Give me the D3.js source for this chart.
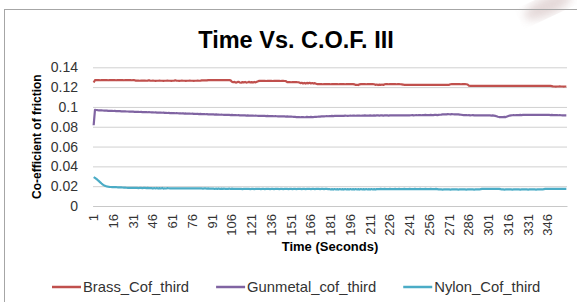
<!DOCTYPE html>
<html>
<head>
<meta charset="utf-8">
<script src="https://cdn.jsdelivr.net/npm/d3@7"></script>
<style>
  body { margin:0; background:#fff; }
  svg { display:block; font-family: "Liberation Sans", Arial, sans-serif; }
</style>
</head>
<body>
<svg id="chart" width="577" height="302"></svg>
<script>
// chart values
const chartTitle = "Time Vs. C.O.F. III";
const xTitle = "Time (Seconds)";
const yTitle = "Co-efficient of friction";
const seriesNames = ["Brass_Cof_third", "Gunmetal_cof_third", "Nylon_Cof_third"];
const seriesColors = ["#C0504D", "#8064A2", "#4BACC6"];
const yTicks = [0, 0.02, 0.04, 0.06, 0.08, 0.1, 0.12, 0.14];
const yTickLabels = ["0", "0.02", "0.04", "0.06", "0.08", "0.1", "0.12", "0.14"];
const xTickLabels = [1, 16, 31, 46, 61, 76, 91, 106, 121, 136, 151, 166, 181, 196, 211, 226, 241, 256, 271, 286, 301, 316, 331, 346];

const brass = [
0.1247,0.1270,0.1271,0.1270,0.1270,0.1269,0.1270,0.1271,0.1270,0.1270,0.1270,0.1269,0.1270,0.1270,0.1271,
0.1270,0.1270,0.1269,0.1270,0.1270,0.1271,0.1270,0.1270,0.1269,0.1270,0.1270,0.1270,0.1271,0.1270,0.1269,
0.1270,0.1270,0.1266,0.1265,0.1265,0.1264,0.1265,0.1265,0.1266,0.1265,0.1264,0.1265,0.1270,0.1264,0.1264,
0.1265,0.1264,0.1263,0.1264,0.1264,0.1265,0.1264,0.1264,0.1263,0.1264,0.1264,0.1265,0.1264,0.1264,0.1263,
0.1264,0.1264,0.1269,0.1264,0.1264,0.1263,0.1264,0.1265,0.1264,0.1264,0.1263,0.1264,0.1264,0.1265,0.1264,
0.1264,0.1263,0.1264,0.1264,0.1265,0.1264,0.1264,0.1268,0.1268,0.1269,0.1268,0.1268,0.1271,0.1271,0.1270,
0.1271,0.1271,0.1270,0.1271,0.1271,0.1272,0.1271,0.1270,0.1271,0.1271,0.1270,0.1271,0.1271,0.1270,0.1268,
0.1255,0.1249,0.1253,0.1245,0.1250,0.1254,0.1247,0.1244,0.1251,0.1248,0.1252,0.1246,0.1249,0.1253,0.1247,
0.1250,0.1246,0.1252,0.1248,0.1255,0.1260,0.1263,0.1263,0.1264,0.1263,0.1263,0.1262,0.1263,0.1264,0.1263,
0.1263,0.1262,0.1263,0.1263,0.1264,0.1263,0.1263,0.1262,0.1263,0.1263,0.1262,0.1260,0.1251,0.1250,0.1250,
0.1249,0.1250,0.1250,0.1251,0.1250,0.1249,0.1248,0.1240,0.1244,0.1237,0.1242,0.1236,0.1243,0.1238,0.1244,
0.1237,0.1241,0.1236,0.1240,0.1234,0.1230,0.1230,0.1231,0.1230,0.1229,0.1230,0.1230,0.1231,0.1230,0.1230,
0.1229,0.1230,0.1230,0.1231,0.1230,0.1230,0.1229,0.1230,0.1230,0.1231,0.1230,0.1229,0.1230,0.1230,0.1230,
0.1231,0.1230,0.1230,0.1228,0.1222,0.1224,0.1221,0.1228,0.1230,0.1230,0.1231,0.1230,0.1229,0.1230,0.1230,
0.1230,0.1231,0.1230,0.1229,0.1223,0.1226,0.1221,0.1225,0.1222,0.1226,0.1222,0.1229,0.1230,0.1230,0.1229,
0.1230,0.1230,0.1231,0.1230,0.1230,0.1229,0.1230,0.1230,0.1229,0.1228,0.1226,0.1223,0.1223,0.1224,0.1223,
0.1223,0.1222,0.1223,0.1223,0.1224,0.1223,0.1223,0.1222,0.1223,0.1223,0.1223,0.1224,0.1223,0.1222,0.1223,
0.1223,0.1223,0.1224,0.1223,0.1223,0.1222,0.1223,0.1223,0.1223,0.1224,0.1223,0.1222,0.1223,0.1223,0.1224,
0.1223,0.1229,0.1230,0.1231,0.1230,0.1230,0.1231,0.1230,0.1230,0.1229,0.1230,0.1231,0.1230,0.1229,0.1226,
0.1214,0.1213,0.1213,0.1214,0.1213,0.1213,0.1212,0.1213,0.1213,0.1214,0.1213,0.1213,0.1212,0.1213,0.1213,
0.1213,0.1214,0.1213,0.1213,0.1212,0.1213,0.1213,0.1214,0.1213,0.1213,0.1212,0.1213,0.1213,0.1213,0.1214,
0.1213,0.1213,0.1212,0.1213,0.1213,0.1214,0.1213,0.1213,0.1212,0.1213,0.1213,0.1213,0.1214,0.1213,0.1213,
0.1212,0.1213,0.1213,0.1214,0.1213,0.1213,0.1212,0.1213,0.1213,0.1213,0.1214,0.1213,0.1213,0.1212,0.1213,
0.1213,0.1213,0.1212,0.1210,0.1206,0.1206,0.1205,0.1206,0.1206,0.1207,0.1206,0.1206,0.1205,0.1206,0.1206
];

const gunmetal = [
0.0815,0.0970,0.0969,0.0967,0.0966,0.0965,0.0966,0.0964,0.0963,0.0962,0.0963,0.0961,0.0960,0.0961,0.0960,
0.0959,0.0960,0.0958,0.0958,0.0957,0.0958,0.0956,0.0956,0.0955,0.0956,0.0954,0.0954,0.0953,0.0953,0.0952,
0.0952,0.0951,0.0951,0.0950,0.0951,0.0949,0.0950,0.0948,0.0949,0.0947,0.0948,0.0946,0.0947,0.0946,0.0945,
0.0946,0.0944,0.0945,0.0943,0.0944,0.0942,0.0943,0.0941,0.0942,0.0940,0.0941,0.0939,0.0940,0.0938,0.0939,
0.0937,0.0938,0.0936,0.0937,0.0936,0.0935,0.0936,0.0934,0.0935,0.0933,0.0934,0.0932,0.0933,0.0932,0.0931,
0.0932,0.0930,0.0931,0.0929,0.0930,0.0928,0.0929,0.0928,0.0927,0.0928,0.0926,0.0927,0.0925,0.0926,0.0925,
0.0924,0.0925,0.0923,0.0924,0.0922,0.0923,0.0921,0.0922,0.0921,0.0920,0.0921,0.0919,0.0920,0.0919,0.0918,
0.0919,0.0917,0.0918,0.0917,0.0916,0.0917,0.0915,0.0916,0.0915,0.0914,0.0915,0.0913,0.0914,0.0913,0.0912,
0.0913,0.0912,0.0911,0.0912,0.0911,0.0910,0.0911,0.0910,0.0909,0.0910,0.0909,0.0908,0.0909,0.0908,0.0907,
0.0908,0.0907,0.0906,0.0907,0.0906,0.0905,0.0906,0.0905,0.0904,0.0905,0.0904,0.0903,0.0904,0.0903,0.0902,
0.0903,0.0901,0.0900,0.0899,0.0898,0.0897,0.0898,0.0896,0.0897,0.0898,0.0896,0.0897,0.0899,0.0898,0.0897,
0.0899,0.0897,0.0898,0.0900,0.0899,0.0901,0.0903,0.0902,0.0904,0.0905,0.0904,0.0906,0.0907,0.0906,0.0908,
0.0907,0.0909,0.0908,0.0910,0.0909,0.0910,0.0911,0.0909,0.0910,0.0911,0.0910,0.0912,0.0911,0.0910,0.0911,
0.0912,0.0911,0.0913,0.0912,0.0911,0.0912,0.0913,0.0912,0.0911,0.0913,0.0912,0.0914,0.0913,0.0912,0.0913,
0.0914,0.0913,0.0912,0.0914,0.0913,0.0915,0.0914,0.0913,0.0914,0.0915,0.0913,0.0914,0.0915,0.0914,0.0913,
0.0915,0.0914,0.0916,0.0915,0.0914,0.0915,0.0916,0.0914,0.0915,0.0916,0.0915,0.0914,0.0916,0.0915,0.0914,
0.0915,0.0916,0.0917,0.0915,0.0916,0.0917,0.0916,0.0918,0.0917,0.0916,0.0918,0.0917,0.0919,0.0918,0.0917,
0.0918,0.0919,0.0917,0.0918,0.0920,0.0919,0.0918,0.0920,0.0921,0.0922,0.0924,0.0925,0.0926,0.0925,0.0927,
0.0926,0.0925,0.0927,0.0926,0.0925,0.0926,0.0924,0.0925,0.0923,0.0921,0.0919,0.0918,0.0917,0.0918,0.0916,
0.0917,0.0915,0.0916,0.0917,0.0915,0.0916,0.0914,0.0915,0.0916,0.0914,0.0915,0.0916,0.0914,0.0915,0.0914,
0.0915,0.0914,0.0913,0.0914,0.0912,0.0910,0.0906,0.0901,0.0898,0.0897,0.0898,0.0897,0.0899,0.0898,0.0903,
0.0908,0.0913,0.0915,0.0916,0.0917,0.0916,0.0918,0.0917,0.0918,0.0919,0.0918,0.0919,0.0920,0.0919,0.0920,
0.0919,0.0920,0.0921,0.0920,0.0919,0.0920,0.0921,0.0920,0.0919,0.0920,0.0921,0.0920,0.0919,0.0920,0.0919,
0.0920,0.0919,0.0918,0.0919,0.0918,0.0917,0.0918,0.0917,0.0916,0.0917,0.0916,0.0915,0.0916,0.0915,0.0915
];

const nylon = [
0.0292,0.0284,0.0274,0.0263,0.0251,0.0239,0.0227,0.0216,0.0208,0.0202,0.0198,0.0195,0.0193,0.0192,0.0191,
0.0191,0.0190,0.0190,0.0189,0.0189,0.0188,0.0188,0.0187,0.0186,0.0185,0.0184,0.0183,0.0183,0.0182,0.0182,
0.0182,0.0183,0.0182,0.0182,0.0181,0.0182,0.0182,0.0181,0.0182,0.0182,0.0181,0.0182,0.0181,0.0181,0.0180,
0.0176,0.0181,0.0177,0.0182,0.0176,0.0180,0.0177,0.0182,0.0176,0.0179,0.0177,0.0180,0.0179,0.0178,0.0178,
0.0178,0.0179,0.0178,0.0178,0.0177,0.0178,0.0178,0.0179,0.0178,0.0178,0.0177,0.0178,0.0178,0.0177,0.0178,
0.0178,0.0177,0.0178,0.0177,0.0177,0.0178,0.0177,0.0177,0.0176,0.0177,0.0177,0.0176,0.0177,0.0176,0.0176,
0.0176,0.0175,0.0172,0.0176,0.0173,0.0177,0.0172,0.0175,0.0173,0.0176,0.0172,0.0174,0.0173,0.0176,0.0172,
0.0175,0.0173,0.0174,0.0172,0.0172,0.0173,0.0172,0.0172,0.0171,0.0172,0.0172,0.0173,0.0172,0.0172,0.0171,
0.0172,0.0172,0.0171,0.0172,0.0172,0.0173,0.0172,0.0171,0.0172,0.0172,0.0171,0.0172,0.0172,0.0172,0.0171,
0.0172,0.0172,0.0171,0.0172,0.0172,0.0172,0.0171,0.0172,0.0172,0.0171,0.0172,0.0172,0.0172,0.0171,0.0172,
0.0172,0.0171,0.0172,0.0172,0.0171,0.0172,0.0172,0.0172,0.0171,0.0172,0.0172,0.0171,0.0172,0.0172,0.0172,
0.0171,0.0172,0.0172,0.0171,0.0172,0.0172,0.0172,0.0171,0.0172,0.0172,0.0171,0.0172,0.0172,0.0171,0.0171,
0.0167,0.0170,0.0166,0.0171,0.0167,0.0170,0.0166,0.0171,0.0167,0.0170,0.0166,0.0171,0.0167,0.0170,0.0166,
0.0171,0.0167,0.0170,0.0166,0.0171,0.0167,0.0170,0.0166,0.0171,0.0167,0.0170,0.0166,0.0171,0.0167,0.0170,
0.0166,0.0171,0.0167,0.0170,0.0166,0.0170,0.0171,0.0171,0.0172,0.0171,0.0171,0.0172,0.0171,0.0171,0.0171,
0.0172,0.0171,0.0171,0.0171,0.0172,0.0171,0.0171,0.0172,0.0171,0.0171,0.0171,0.0172,0.0171,0.0171,0.0171,
0.0172,0.0171,0.0171,0.0171,0.0172,0.0171,0.0171,0.0171,0.0172,0.0171,0.0171,0.0171,0.0172,0.0171,0.0171,
0.0171,0.0172,0.0171,0.0171,0.0171,0.0172,0.0171,0.0168,0.0167,0.0167,0.0166,0.0167,0.0167,0.0168,0.0167,
0.0167,0.0166,0.0167,0.0167,0.0168,0.0167,0.0167,0.0166,0.0167,0.0167,0.0168,0.0167,0.0167,0.0166,0.0167,
0.0167,0.0168,0.0167,0.0167,0.0166,0.0167,0.0167,0.0168,0.0167,0.0170,0.0173,0.0173,0.0174,0.0173,0.0173,
0.0174,0.0173,0.0173,0.0173,0.0174,0.0173,0.0173,0.0174,0.0173,0.0170,0.0167,0.0167,0.0166,0.0167,0.0167,
0.0168,0.0167,0.0167,0.0166,0.0167,0.0167,0.0168,0.0167,0.0167,0.0166,0.0167,0.0167,0.0168,0.0167,0.0167,
0.0166,0.0167,0.0167,0.0168,0.0167,0.0167,0.0166,0.0167,0.0167,0.0168,0.0167,0.0167,0.0170,0.0172,0.0172,
0.0173,0.0172,0.0172,0.0173,0.0172,0.0172,0.0173,0.0172,0.0172,0.0173,0.0172,0.0172,0.0173,0.0172,0.0172
];

const allSeries = [brass, gunmetal, nylon];

function drawChart()
{
    const svg = d3.select("#chart");
    const plot = {left:93, right:567, top:67.3, bottom:206};

    // faint smudge in the top right corner of the scan
    const defs = svg.append("defs");
    defs.append("filter").attr("id","blur").append("feGaussianBlur").attr("stdDeviation",5);
    svg.append("ellipse")
       .attr("cx",548).attr("cy",6).attr("rx",26).attr("ry",9)
       .attr("transform","rotate(-25,548,6)")
       .attr("fill","#d9c8c8").attr("opacity",0.7)
       .attr("filter","url(#blur)");

    // chart frame
    svg.append("rect")
       .attr("x",4.5).attr("y",9.5).attr("width",620).attr("height",320)
       .attr("fill","none").attr("stroke","#a6a6a6").attr("stroke-width",1);

    const categories = d3.range(1, brass.length+1);
    const x = d3.scaleBand().domain(categories).range([plot.left, plot.right]).padding(0);
    const y = d3.scaleLinear().domain([0, 0.14]).range([plot.bottom, plot.top]);
    const cx = d => x(d) + x.bandwidth()/2;

    // gridlines + y labels
    const yAxis = svg.append("g")
        .attr("transform","translate("+plot.left+",0)")
        .call(d3.axisLeft(y).tickValues(yTicks)
              .tickFormat((d,i)=>yTickLabels[i])
              .tickSize(-(plot.right-plot.left)).tickPadding(15));
    yAxis.select(".domain").remove();
    yAxis.selectAll(".tick line").attr("stroke","#d0d0d0").attr("stroke-width",1);
    yAxis.selectAll(".tick text")
         .attr("font-family","'Liberation Sans', Arial, sans-serif")
         .attr("font-size",14).attr("fill","#333");

    // category axis
    const xAxis = svg.append("g")
        .attr("transform","translate(0,"+plot.bottom+")")
        .call(d3.axisBottom(x).tickValues(xTickLabels).tickSize(0).tickPadding(0));
    xAxis.select(".domain").attr("stroke","#c8c8c8");
    xAxis.selectAll(".tick text")
         .attr("font-family","'Liberation Sans', Arial, sans-serif")
         .attr("font-size",13).attr("fill","#333")
         .attr("transform","rotate(-90)")
         .attr("text-anchor","end")
         .attr("dy","0.35em")
         .attr("x",-8).attr("y",0);

    // series lines
    const line = d3.line().x((d,i)=>cx(categories[i])).y(d=>y(d));
    allSeries.forEach((s,k)=>{
        svg.append("path")
           .datum(s)
           .attr("fill","none")
           .attr("stroke",seriesColors[k])
           .attr("stroke-width",2.2)
           .attr("stroke-linejoin","round")
           .attr("d",line);
    });

    // titles
    svg.append("text")
       .attr("x",296).attr("y",48)
       .attr("text-anchor","middle")
       .attr("font-size",23.5).attr("font-weight","bold").attr("fill","#000")
       .text(chartTitle);
    svg.append("text")
       .attr("transform","translate(41,"+((plot.top+plot.bottom)/2)+") rotate(-90)")
       .attr("text-anchor","middle")
       .attr("font-size",12).attr("font-weight","bold").attr("fill","#000")
       .text(yTitle);
    svg.append("text")
       .attr("x",(plot.left+plot.right)/2).attr("y",251)
       .attr("text-anchor","middle")
       .attr("font-size",13).attr("font-weight","bold").attr("fill","#000")
       .text(xTitle);

    // legend
    let lx = 52;
    const ly = 287;
    seriesNames.forEach((name,k)=>{
        svg.append("line")
           .attr("x1",lx).attr("x2",lx+29).attr("y1",ly).attr("y2",ly)
           .attr("stroke",seriesColors[k]).attr("stroke-width",2.5);
        const t = svg.append("text")
           .attr("x",lx+31).attr("y",ly).attr("dy","0.35em")
           .attr("font-size",14.8).attr("fill","#333")
           .text(name);
        lx += 31 + t.node().getComputedTextLength() + 27;
    });
}

drawChart();
</script>
</body>
</html>
